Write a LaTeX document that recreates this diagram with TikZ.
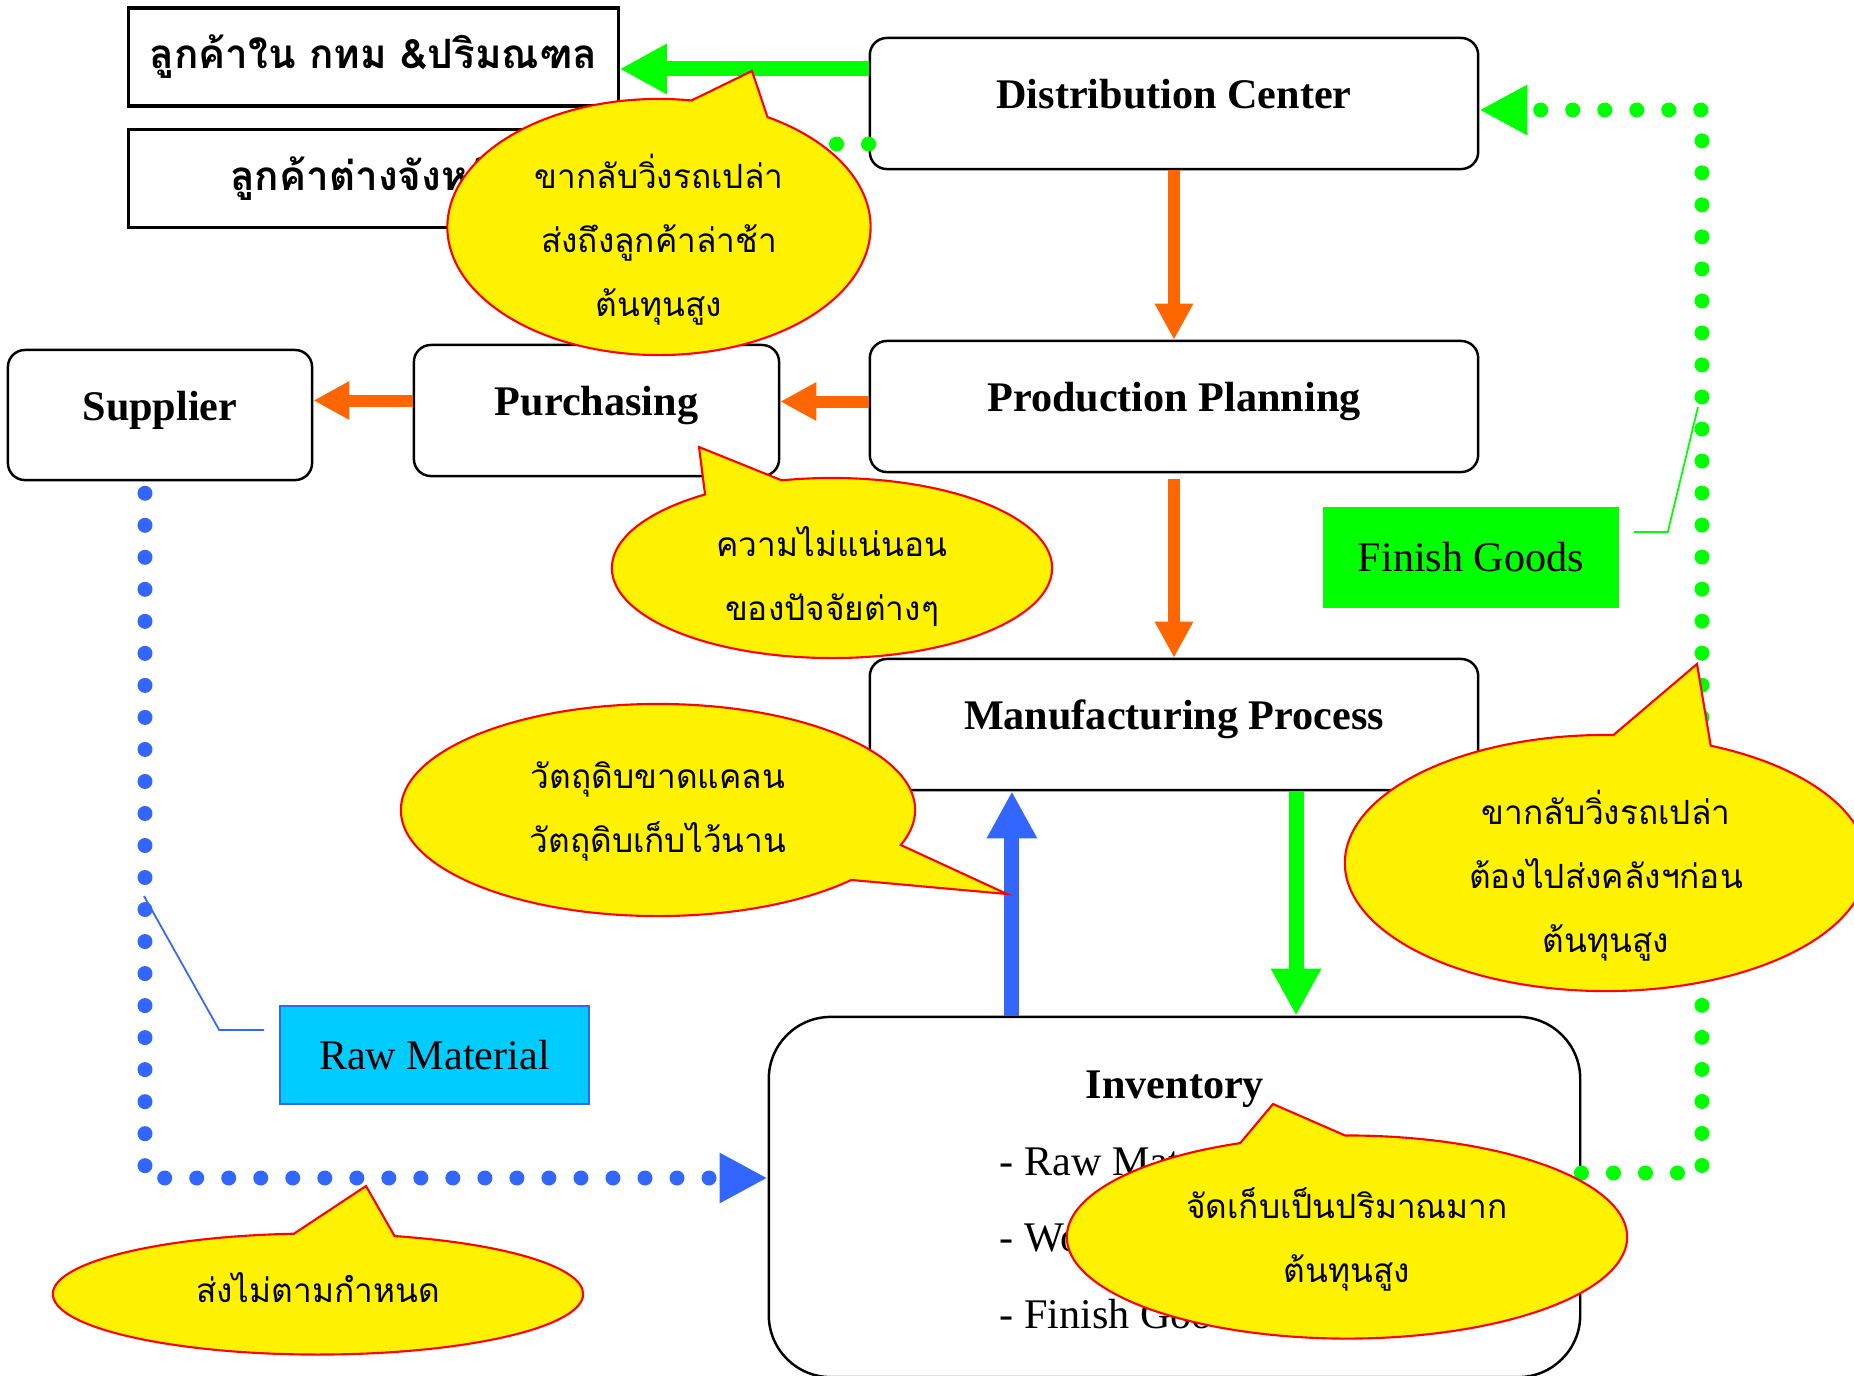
\documentclass[tikz,border=0pt]{standalone}
\usepackage{fontspec}
\setmainfont{Liberation Serif}
\newfontfamily\thaifont[Script=Thai]{Loma}
\usetikzlibrary{shapes,shapes.callouts,arrows.meta,positioning,calc}

\definecolor{flowor}{HTML}{FF6600}
\definecolor{flowgr}{HTML}{00FF00}
\definecolor{flowbl}{HTML}{3366FF}
\definecolor{rawcyan}{HTML}{00CCFF}

\begin{document}
\begin{tikzpicture}[x=0.01cm, y=-0.01cm,
    procbox/.style={draw, rounded corners=0.17cm, line width=0.7pt, minimum width=6.08cm, minimum height=1.31cm, inner sep=0pt, text height=0.28cm, text depth=0.18cm, font=\fontsize{12}{14}\selectfont\bfseries},
    custbox/.style={draw, line width=0.9pt, minimum width=4.89cm, minimum height=0.98cm, inner sep=0pt, font=\thaifont\fontsize{11.5}{14}\selectfont\bfseries},
    tagbox/.style={minimum width=3.0cm, minimum height=1.0cm, inner sep=0pt, font=\fontsize{12}{14}\selectfont},
    note/.style={ellipse callout, draw=red, line width=0.6pt, fill=yellow, inner sep=0pt, callout pointer arc=22, align=center, text depth=0pt, font=\thaifont\fontsize{9.5}{18.2}\selectfont},
    orflow/.style={flowor, line width=0.12cm, -{Triangle[length=0.36cm,width=0.36cm]}},
    bigflow/.style={line width=0.15cm, -{Triangle[length=0.47cm,width=0.47cm]}},
    dotflow/.style={line width=0.15cm, line cap=round, dash pattern=on 0pt off 0.32cm, -{Triangle[length=0.48cm,width=0.47cm]}}
]
    \useasboundingbox (0,0) rectangle (1854,1375);
    \clip (0,0) rectangle (1854,1375);

    % customers
    \node [custbox] (cust1) at (373.5,57) {ลูกค้าใน กทม \&ปริมณฑล};
    \node [custbox] (cust2) at (373.5,178.5) {ลูกค้าต่างจังหวัด};

    % main flow
    \node [procbox] (dc) at (1174,103.5) {Distribution Center};
    \node [procbox] (pp) at (1174,406.5) {Production Planning};
    \node [procbox] (mp) at (1174,724.5) {Manufacturing Process};
    \node [procbox, minimum width=3.65cm] (pur) at (596.5,410.5) {Purchasing};
    \node [procbox, minimum width=3.04cm, minimum height=1.30cm] (sup) at (160,415) {Supplier};
    \node [draw, rounded corners=0.62cm, line width=0.7pt, minimum width=8.11cm, minimum height=3.6cm] (inv) at (1174.5,1197) {};
    \node [font=\fontsize{12}{14}\selectfont\bfseries, anchor=base] (invtitle) at (1175,1098) {Inventory};
    \foreach \item [count=\i] in {Raw Material, Work in Process, Finish Goods}
        \node [font=\fontsize{12}{14}\selectfont, anchor=base west, inner sep=0pt] (invitem\i) at (999,{1175+76.5*(\i-1)}) {- \item};

    % arrows
    \draw [orflow] (dc.south) -- (pp.north);
    \draw [orflow] ([yshift=-0.06cm]pp.south) -- (mp.north);
    \draw [orflow] ([yshift=0.05cm]pp.west) -- ([yshift=0.05cm]pp.west -| pur.east);
    \draw [orflow] ([yshift=0.1cm]pur.west) -- ([yshift=0.1cm]pur.west -| sup.east);
    \draw [bigflow, flowgr] ([yshift=0.345cm]dc.west) -- ([yshift=0.345cm]dc.west -| cust1.east);
    \draw [bigflow, flowbl] ([xshift=-1.62cm]mp.south |- inv.north) -- ([xshift=-1.62cm]mp.south);
    \draw [bigflow, flowgr] ([xshift=1.22cm]mp.south) -- ([xshift=1.22cm]mp.south |- inv.north);

    % dotted transport lines
    \coordinate (gcorner) at (1702,110);
    \draw [dotflow, flowbl] ([xshift=-0.15cm,yshift=-0.12cm]sup.south) |- ([yshift=0.19cm]inv.west);
    \draw [dotflow, flowgr] ([yshift=0.24cm]inv.east) -| (gcorner) -- (gcorner -| dc.east);
    \draw [dotflow, flowgr] ([yshift=-0.405cm]dc.west) -- ([yshift=-0.405cm]dc.west -| cust2.east);

    % tags
    \node [tagbox, fill=rawcyan, draw=flowbl, line width=0.4pt, minimum width=3.09cm, minimum height=0.98cm] (rawtag) at (434.5,1055) {Raw Material};
    \node [tagbox, fill=flowgr, minimum width=2.96cm, minimum height=1.01cm] (fgtag) at (1471,557.5) {Finish Goods};
    \coordinate (rawtip) at (144,896);
    \coordinate (fgtip) at (1698,407);
    \draw [flowbl, line width=0.5pt] ([xshift=-0.15cm,yshift=0.25cm]rawtag.west) -- ++(-45,0) -- (rawtip);
    \draw [flowgr, line width=0.5pt] ([xshift=0.14cm,yshift=0.255cm]fgtag.east) -- ++(34,0) -- (fgtip);

    % problem notes
    \node [note, text height=51pt, minimum width=4.23cm, minimum height=2.56cm, callout absolute pointer={(752,71)}] (noteA) at (659,227) {ขากลับวิ่งรถเปล่า\\ส่งถึงลูกค้าล่าช้า\\ต้นทุนสูง};
    \node [note, text height=29.6pt, minimum width=4.40cm, minimum height=1.80cm, callout absolute pointer={(699,447)}] (noteB) at (832,568) {ความไม่แน่นอน\\ของปัจจัยต่างๆ};
    \node [note, text height=23.9pt, minimum width=5.14cm, minimum height=2.12cm, callout absolute pointer={(1007,894)}] (noteC) at (658,810) {วัตถุดิบขาดแคลน\\วัตถุดิบเก็บไว้นาน};
    \node [note, text height=51pt, minimum width=5.22cm, minimum height=2.56cm, callout absolute pointer={(1697,664)}] (noteD) at (1606,863) {ขากลับวิ่งรถเปล่า\\ต้องไปส่งคลังฯก่อน\\ต้นทุนสูง};
    \node [note, text height=25.6pt, minimum width=5.60cm, minimum height=2.03cm, callout absolute pointer={(1273,1104)}] (noteE) at (1347,1237) {จัดเก็บเป็นปริมาณมาก\\ต้นทุนสูง};
    \node [note, text height=5.1pt, minimum width=5.30cm, minimum height=1.21cm, callout absolute pointer={(366,1186)}] (noteF) at (318,1294) {ส่งไม่ตามกำหนด};
\end{tikzpicture}
\end{document}
